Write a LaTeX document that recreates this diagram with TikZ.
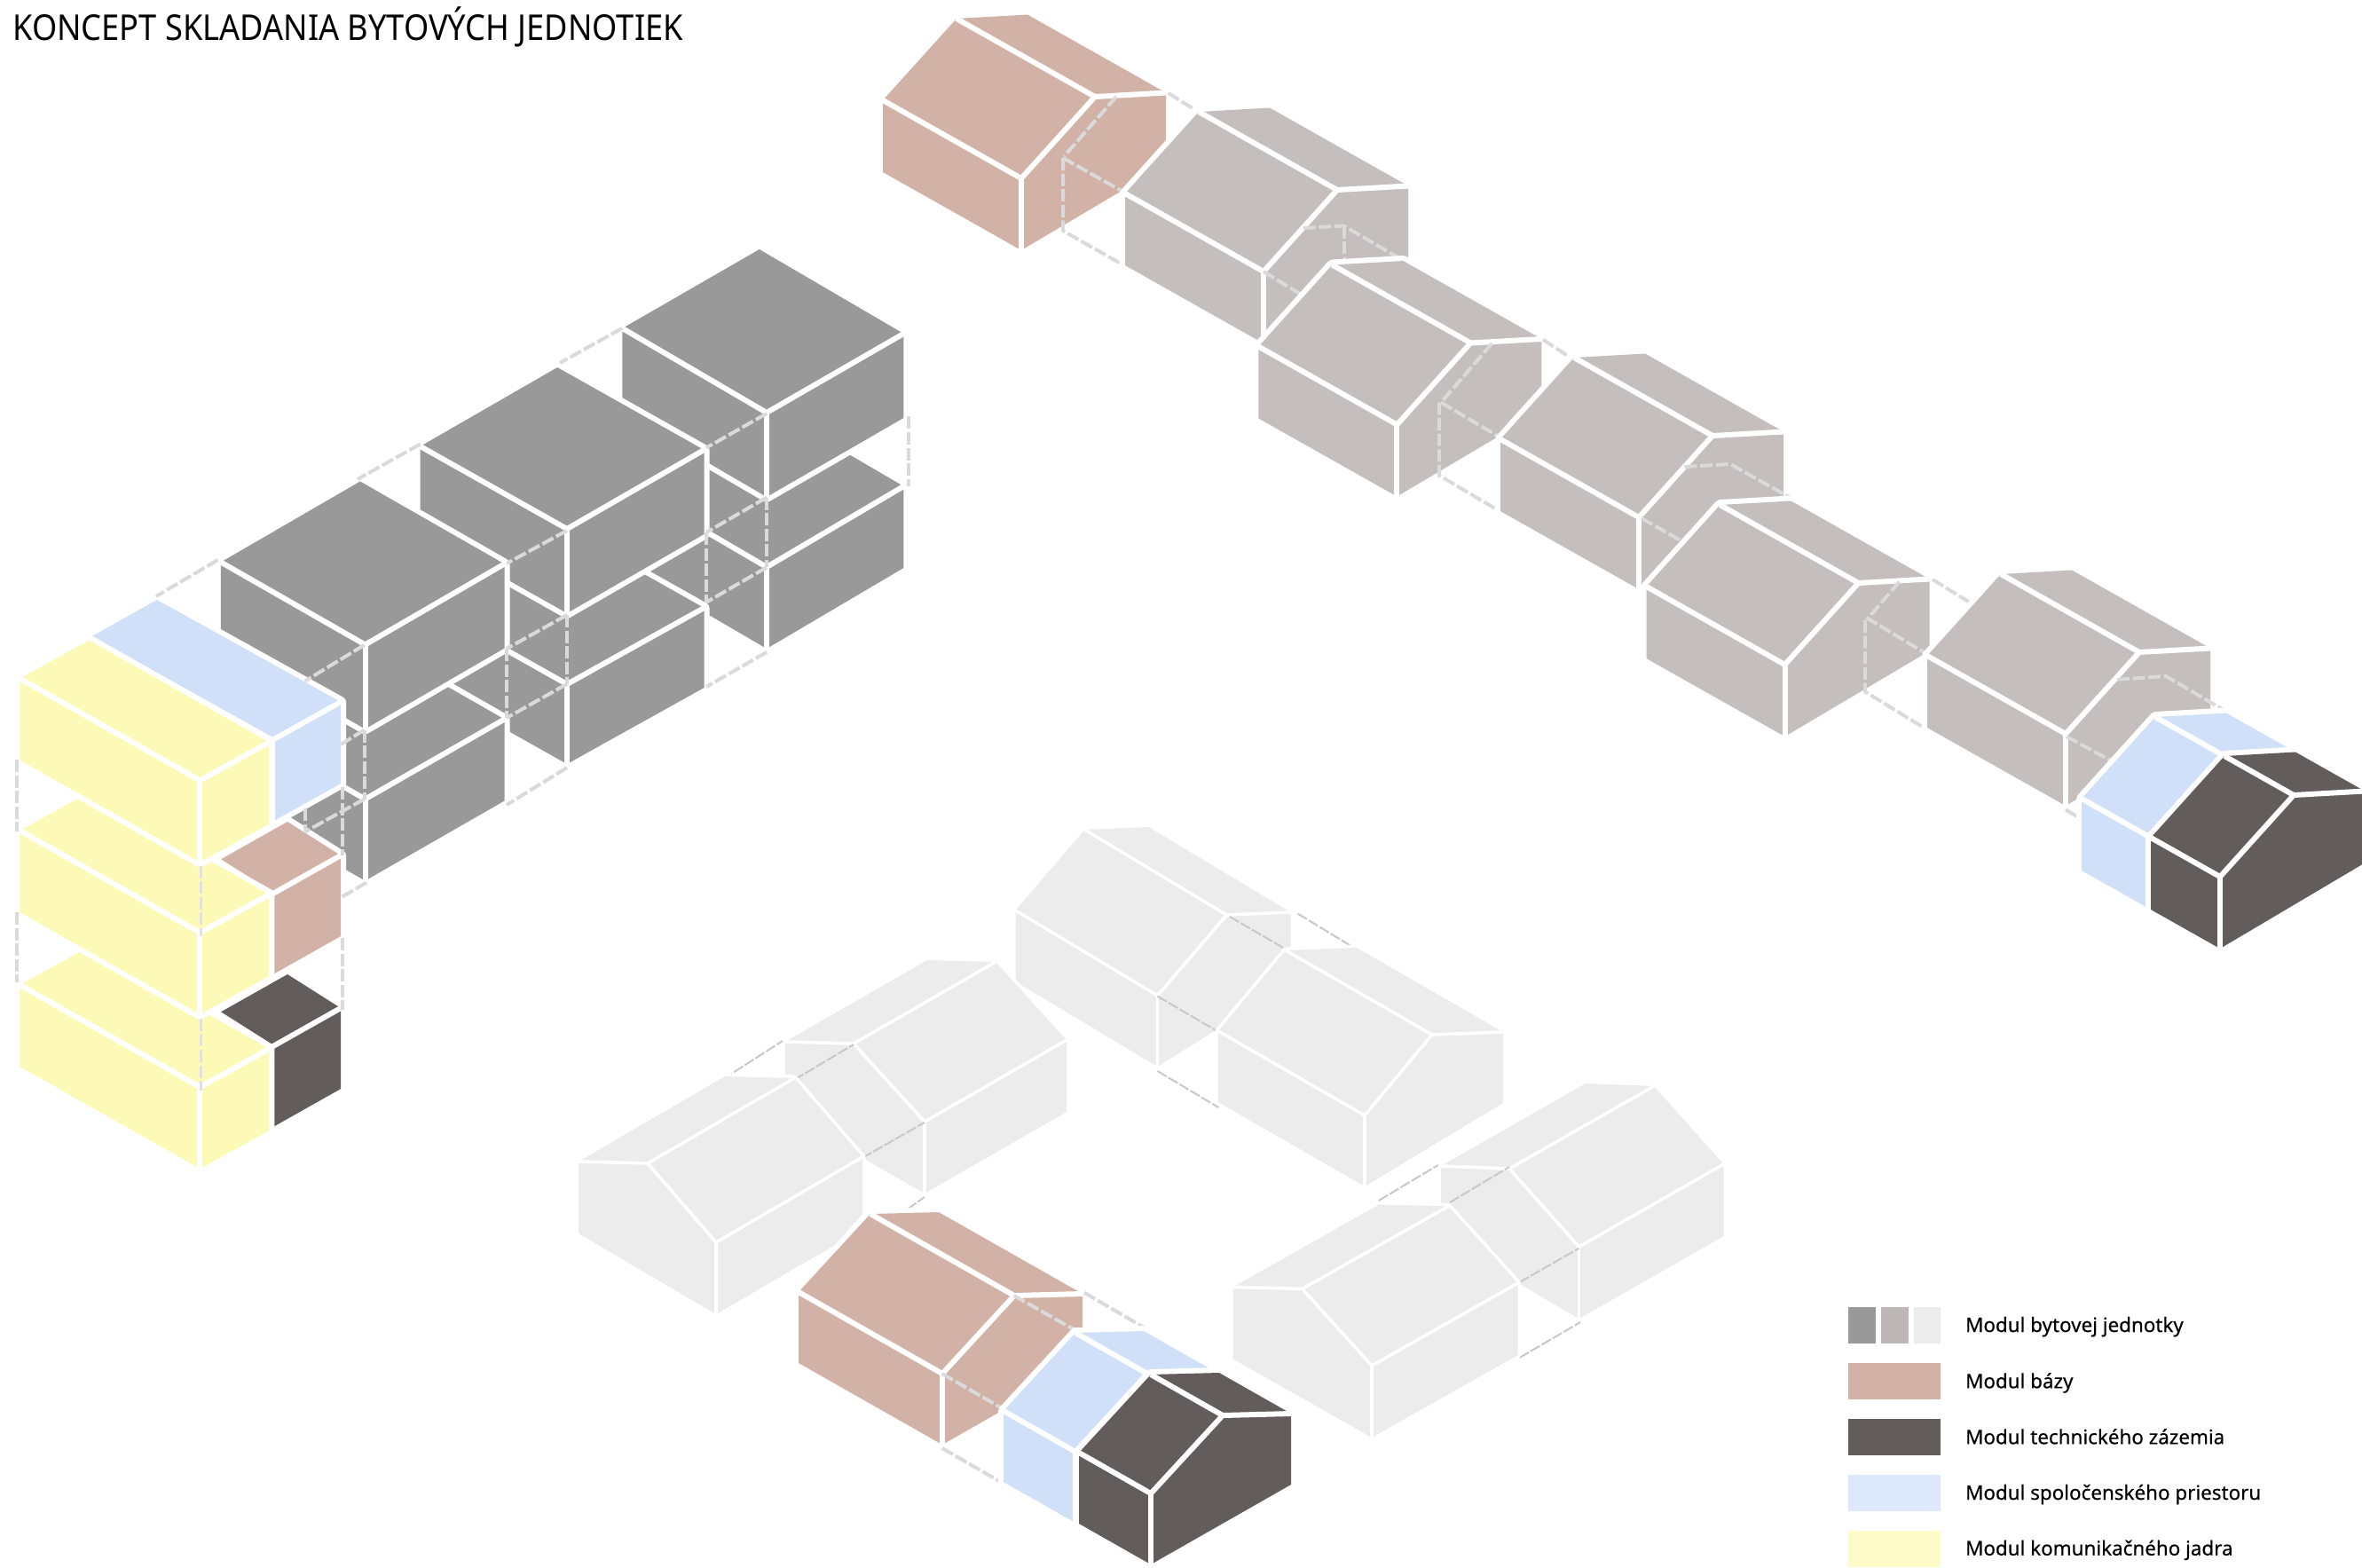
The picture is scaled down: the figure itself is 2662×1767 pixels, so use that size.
\documentclass[tikz,border=0pt]{standalone}
\usepackage{fontspec}
\setmainfont{Noto Sans}
\definecolor{gA}{HTML}{999999}
\definecolor{gB}{HTML}{C4BEBC}
\definecolor{gC}{HTML}{ECECEC}
\definecolor{brn}{HTML}{D2B2A6}
\definecolor{drk}{HTML}{625C5A}
\definecolor{blu}{HTML}{CFE0F8}
\definecolor{yel}{HTML}{FDFAB8}
\definecolor{sblu}{HTML}{DDE8FB}
\definecolor{syel}{HTML}{FDFCC8}
\definecolor{dsh}{HTML}{DADADA}
\definecolor{dshl}{HTML}{C8C8C8}
\definecolor{dshp}{HTML}{E2DFEA}
\newcommand\wl{3pt}
\newcommand\setvec[7]{\def\vLx{#1}\def\vLy{#2}\def\vSx{#3}\def\vSy{#4}\def\vTx{#5}\def\vTy{#6}\def\vH{#7}}
\newcommand\house[4]{%
 \begin{scope}[shift={(#1,#2)}]
  \coordinate (E) at (0,0);
  \coordinate (D) at (0,-\vH);
  \coordinate (F) at ({#4*\vLx},{#4*\vLy});
  \coordinate (A) at ({#4*\vLx},{#4*\vLy-\vH});
  \coordinate (C) at ({\vSx},{\vSy-\vH});
  \coordinate (B) at ({#4*\vLx+\vSx},{#4*\vLy+\vSy-\vH});
  \coordinate (R) at ({\vSx+\vTx},{\vSy+\vTy-\vH});
  \coordinate (G) at ({#4*\vLx+\vSx+\vTx},{#4*\vLy+\vSy+\vTy-\vH});
  \coordinate (I) at ({\vSx+\vTx},{\vSy+\vTy});
  \draw[halo] (A)--(B)--(G)--(R)--(I)--(E)--(F)--cycle;
  \fill[#3] (A)--(B)--(G)--(R)--(I)--(E)--(F)--cycle;
  \draw[inner] (B)--(C)--(D)--(A);
  \draw[inner] (C)--(R);
  \draw[inner] (D)--(E);
 \end{scope}}
\newcommand\isobox[8]{%
 \begin{scope}[shift={(#1,#2)}]
  \draw[halo] (#6,#7)--({#4+#6},{#5+#7})--(#4,#5)--(#4,{#5+#8})--(0,#8)--(#6,{#7+#8})--cycle;
  \fill[#3] (#6,#7)--({#4+#6},{#5+#7})--(#4,#5)--(#4,{#5+#8})--(0,#8)--(#6,{#7+#8})--cycle;
  \draw[inner] (#6,#7)--(0,0)--(#4,#5);
  \draw[inner] (0,0)--(0,#8);
 \end{scope}}
\tikzset{
 halo/.style={draw=white,line width=2*\wl,line join=round},
 inner/.style={draw=white,line width=\wl,line join=round},
 dashA/.style={draw=dsh,line width=2pt,dash pattern=on 7pt off 1.8pt},
 dashL/.style={draw=dshl,line width=1pt,dash pattern=on 6pt off 1.2pt},
 dashP/.style={draw=dshp,line width=1.8pt,dash pattern=on 7pt off 1.8pt},
 legendtext/.style={anchor=base west,inner sep=0pt,font=\fontsize{11.2pt}{13pt}\selectfont\addfontfeatures{FakeBold=0.35}},
 titletext/.style={anchor=base west,inner sep=0pt,font=\fontsize{20pt}{24pt}\selectfont},
}
\begin{document}
\begin{tikzpicture}[x=0.5pt,y=-0.5pt]
\useasboundingbox (0,0) rectangle (2662,1767);
\fill[white] (0,0) rectangle (2662,1767);
\node[titletext] (title) at (14,45) {\scalebox{0.905}[1]{KONCEPT SKLADANIA BYTOVÝCH JEDNOTIEK}};

% ---- left stack: grey boxes
\isobox{864}{639}{gA}{154.4}{-91}{-162.6}{-95}{92}
\isobox{864}{465}{gA}{154.4}{-89}{-162.6}{-95}{95}
\isobox{639}{771}{gA}{154.5}{-86}{-165.3}{-93}{90}
\isobox{639}{596}{gA}{154.5}{-89}{-165.3}{-93}{95}
\isobox{411.5}{900.5}{gA}{157}{-90}{-162.6}{-93}{92}
\isobox{411.5}{726.5}{gA}{157}{-91}{-162.6}{-93}{95}
% ---- left stack: coloured boxes
\isobox{307}{834}{blu}{77}{-43}{-207}{-115}{92}
\isobox{306}{1008}{brn}{78}{-44}{-60}{-38}{91}
\isobox{306}{1180}{drk}{78}{-44}{-60}{-38}{91}
\isobox{225.4}{1225}{yel}{78}{-43}{-203}{-115}{92}
\isobox{225.4}{1051}{yel}{78}{-43}{-203}{-115}{92}
\isobox{225.4}{879.5}{yel}{78}{-43}{-203}{-115}{92}
% ---- left stack: dashes
\draw[dashA] (701,370)--(631,409);
\draw[dashA] (473.7,500.5)--(403,540);
\draw[dashA] (245.5,631)--(176,672);
\draw[dashA] (864,466)--(796,504.6);
\draw[dashA] (864,560.6)--(796,600);
\draw[dashA] (864,639.4)--(796,678.7);
\draw[dashA] (864,560.6)--(864,639.4);
\draw[dashA] (796,600)--(796,678.7);
\draw[dashA] (864,735)--(796,774);
\draw[dashA] (1024,469.4)--(1024,548);
\draw[dashA] (639,597.9)--(571,635);
\draw[dashA] (639,693)--(571,731);
\draw[dashA] (639,770.8)--(571,809);
\draw[dashA] (639,693)--(639,770.8);
\draw[dashA] (571,731)--(571,809);
\draw[dashA] (639,865)--(571,907);
\draw[dashA] (410.7,726.8)--(343.8,767.5);
\draw[dashA] (410.7,822.5)--(384,839);
\draw[dashA] (410.7,900.5)--(343.8,937.3);
\draw[dashA] (410.7,822.5)--(410.7,900.5);
\draw[dashA] (343.8,911)--(343.8,937.3);
\draw[dashA] (413,994.7)--(384,1011.5);
\draw[dashA] (386,887)--(386,963.6);
\draw[dashA] (386,1057)--(386,1138);
\draw[dashA] (18.8,856)--(18.8,937);
\draw[dashA] (18.8,1028)--(18.8,1107);
\draw[dashP] (226.3,975.6)--(226.3,1054.5);
\draw[dashP] (226.3,1147.8)--(226.3,1229);

% ---- top chain
\setvec{-156}{-88}{83}{-92}{80}{-4.5}{81}
\house{1151}{282}{brn}{1}
\draw[dashA] (1316.7,105)--(1348,124.4);
\draw[dashA] (1258,109)--(1199.4,176);
\draw[dashA] (1198,178)--(1265.7,216);
\draw[dashA] (1198,178)--(1198,260)--(1265.7,298.5);
\house{1424}{387}{gB}{1}
\draw[dashA] (1468.8,257)--(1514.7,254.5)--(1582,294);
\draw[dashA] (1514.7,254.5)--(1514.7,296.6);
\draw[dashA] (1424,306)--(1464.7,331);
\house{1574.4}{559.5}{gB}{1}
\draw[dashA] (1681.5,387)--(1624,453.5)--(1689,492);
\draw[dashA] (1622,453.5)--(1622,535.8)--(1690,576);
\draw[dashA] (1739,382.7)--(1771,403.7);
\house{1847}{664}{gB}{1}
\draw[dashA] (1898.5,526)--(1950,523)--(2018,561);
\draw[dashA] (1850,584)--(1895,609.6);
\house{2011.5}{830}{gB}{1}
\draw[dashA] (2140.6,655.5)--(2105,697)--(2169.7,736);
\draw[dashA] (2102,699)--(2102,779.5)--(2169.7,821);
\draw[dashA] (2178,653)--(2223,680.7);
\house{2328}{908}{gB}{1}
\draw[dashA] (2386,765.7)--(2441,762)--(2508.6,801.5);
\draw[dashA] (2329,830)--(2379.5,857.5);
\draw[dashA] (2328,912.6)--(2344,921.8);
\house{2424}{1025}{blu}{0.5}
\house{2502}{1069}{drk}{0.5}

% ---- ring of light houses
\renewcommand\wl{1.8pt}
\setvec{-160}{-96}{78}{-91}{72}{-3}{80}
\house{1304.5}{1202}{gC}{1}
\draw[dashL] (1386,1033)--(1453,1072);
\draw[dashL] (1462.7,1029.7)--(1529.7,1070.3);
\draw[dashL] (1304.5,1122.7)--(1373.4,1163);
\draw[dashL] (1304.5,1207)--(1373.4,1248);
\setvec{-165}{-95}{76}{-91}{80}{-3}{80}
\house{1538}{1337}{gC}{1}
\setvec{160}{-92}{-80}{-88}{-77}{-2}{81}
\house{1042}{1345}{gC}{1}
\draw[dashL] (895,1217)--(962,1177);
\draw[dashL] (815,1216)--(882,1173);
\draw[dashL] (971.6,1305)--(1041.8,1265);
\draw[dashL] (1022.6,1362.7)--(1041.8,1349);
\setvec{165}{-96}{-77}{-89}{-78}{-2}{81}
\house{807}{1481}{gC}{1}
\setvec{163}{-93}{-78.5}{-88}{-77}{-3}{81}
\house{1779.5}{1486}{gC}{1}
\draw[dashL] (1553.7,1353)--(1620.7,1313);
\draw[dashL] (1634,1355)--(1701,1315);
\draw[dashL] (1712.5,1445)--(1779.5,1406.7);
\draw[dashL] (1712.5,1530)--(1781,1490);
\setvec{164.6}{-93}{-78.4}{-86.6}{-78}{-2}{81}
\house{1546}{1620}{gC}{1}

% ---- bottom coloured house
\renewcommand\wl{3pt}
\setvec{-162}{-92}{81}{-88}{77}{-2}{80}
\house{1062}{1628}{brn}{1}
\draw[dashA] (1142.7,1460)--(1210,1498);
\draw[dashA] (1061.7,1548)--(1131,1588);
\draw[dashA] (1061.7,1632)--(1133,1673);
\draw[dashA] (1222,1456.7)--(1291,1497);
\house{1212}{1716}{blu}{0.5}
\house{1297}{1763}{drk}{0.5}

% ---- legend
\fill[gA] (2083,1472.7) rectangle (2113.7,1514);
\fill[gB!90!gray] (2120,1472.7) rectangle (2151,1514);
\fill[gC] (2156.7,1472.7) rectangle (2187.4,1514);
\fill[brn] (2083,1535.7) rectangle (2187.4,1577.3);
\fill[drk] (2083,1598.7) rectangle (2187.4,1640);
\fill[sblu] (2083,1662) rectangle (2187.4,1702.7);
\fill[syel] (2083,1725) rectangle (2187.4,1766);
\node[legendtext] (l1) at (2214.7,1501) {Modul bytovej jednotky};
\node[legendtext] (l2) at (2214.7,1564.3) {Modul bázy};
\node[legendtext] (l3) at (2214.7,1627.3) {Modul technického zázemia};
\node[legendtext] (l4) at (2214.7,1690) {Modul spoločenského priestoru};
\node[legendtext] (l5) at (2214.7,1752.7) {Modul komunikačného jadra};
\end{tikzpicture}
\end{document}
